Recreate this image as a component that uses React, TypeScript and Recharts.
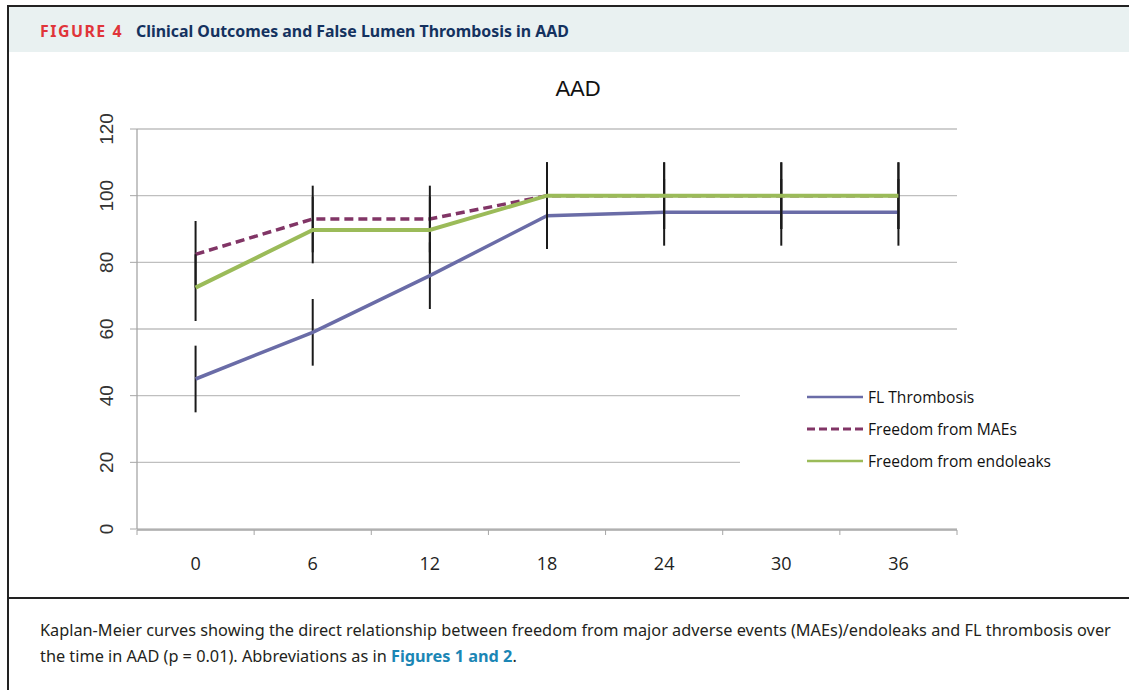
import React from 'react';
import { LineChart, Line, XAxis, YAxis, CartesianGrid, ErrorBar, Legend } from 'recharts';

// Months of follow-up
const months = [0, 6, 12, 18, 24, 30, 36];
// Series values (%)
const flThrombosis = [45, 59, 76, 94, 95, 95, 95];
const freedomMAEs = [82.4, 93, 93, 100, 100, 100, 100];
const freedomEndoleaks = [72.4, 89.7, 89.7, 100, 100, 100, 100];
// Error bar half-widths (%)
const flThrombosisErr = [10, 10, 10, 10, 10, 10, 10];
const freedomMAEsErr = [10, 10, 10, 10, 10, 10, 10];
const freedomEndoleaksErr = [10, 10, 10, 10, 10, 10, 10];
// Axis ticks
const xTickLabels = [0, 6, 12, 18, 24, 30, 36];
const xTickMarks = [-3, 3, 9, 15, 21, 27, 33, 39];
const yTicks = [0, 20, 40, 60, 80, 100, 120];

const series = [
  { key: 'fl', err: 'flErr', name: 'FL Thrombosis', color: '#6A6CA7', width: 3.5, dash: undefined as string | undefined },
  { key: 'mae', err: 'maeErr', name: 'Freedom from MAEs', color: '#813566', width: 3.5, dash: '9 5' },
  { key: 'endo', err: 'endoErr', name: 'Freedom from endoleaks', color: '#9BBB59', width: 4, dash: undefined as string | undefined },
];

const data = months.map((m, i) => ({
  month: m,
  fl: flThrombosis[i],
  mae: freedomMAEs[i],
  endo: freedomEndoleaks[i],
  flErr: flThrombosisErr[i],
  maeErr: freedomMAEsErr[i],
  endoErr: freedomEndoleaksErr[i],
}));

const YTick = (props: any) => {
  const { x, y, payload } = props;
  return (
    <text
      transform={`translate(${x - 15}, ${y}) rotate(-90)`}
      textAnchor="middle"
      fontSize={19}
      fontFamily="'Liberation Sans', Arial, sans-serif"
      fill="#333"
    >
      {payload.value}
    </text>
  );
};

const LegendContent = () => (
  <div style={{ fontFamily: "'Open Sans', sans-serif", fontSize: 15.6, color: '#111' }}>
    {series.map((s) => (
      <div key={s.key} style={{ display: 'flex', alignItems: 'center', height: 32 }}>
        <svg width={58} height={10} style={{ marginRight: 4 }}>
          <line x1={1} y1={5} x2={57} y2={5} stroke={s.color} strokeWidth={s.dash ? 3 : 2.5} strokeDasharray={s.dash ? '8 4' : undefined} />
        </svg>
        <span>{s.name}</span>
      </div>
    ))}
  </div>
);

export default function App() {
  return (
    <div style={{ position: 'absolute', left: 0, top: 0, width: 1129, height: 690, overflow: 'hidden', background: '#fff' }}>
      {/* frame */}
      <div style={{ position: 'absolute', left: 7, top: 5, right: 0, height: 2, background: '#222' }} />
      <div style={{ position: 'absolute', left: 7, top: 5, width: 2, bottom: 0, background: '#222' }} />
      <div style={{ position: 'absolute', left: 9, top: 7, right: 0, height: 45, background: '#E9F1F1' }} />
      <div style={{ position: 'absolute', left: 7, top: 597, right: 0, height: 2, background: '#222' }} />
      {/* header */}
      <div style={{ position: 'absolute', left: 40, top: 18, height: 26, display: 'flex', alignItems: 'center', fontFamily: "'Noto Sans', sans-serif", fontWeight: 700, fontSize: 15.9, whiteSpace: 'nowrap' }}>
        <span style={{ color: '#E0353A', letterSpacing: 1.5 }}>FIGURE 4</span>
        <span style={{ color: '#14325F', marginLeft: 13 }}>Clinical Outcomes and False Lumen Thrombosis in AAD</span>
      </div>
      {/* chart */}
      <div style={{ position: 'absolute', left: 0, top: 0 }}>
        <LineChart width={1129} height={598} data={data} margin={{ top: 129, right: 172, bottom: 67, left: 77 }}>
          <CartesianGrid vertical={false} stroke="#BFBFBF" strokeWidth={1.3} xAxisId="main" />
          <XAxis
            xAxisId="marks"
            dataKey="month"
            type="number"
            domain={[-3, 39]}
            ticks={xTickMarks}
            height={1}
            tickSize={5}
            tickFormatter={() => ''}
            axisLine={{ stroke: '#A6A6A6', strokeWidth: 1.3 }}
            tickLine={{ stroke: '#A6A6A6' }}
            interval={0}
            allowDataOverflow
          />
          <XAxis
            xAxisId="main"
            dataKey="month"
            type="number"
            domain={[-3, 39]}
            ticks={xTickLabels}
            height={1}
            axisLine={false}
            tickLine={false}
            tickSize={6}
            tickMargin={22}
            interval={0}
            tick={{ fontSize: 18, fill: '#222', fontFamily: "'Open Sans', sans-serif" }}
            allowDataOverflow
          />
          <YAxis
            domain={[0, 120]}
            ticks={yTicks}
            width={60}
            tickSize={7}
            axisLine={{ stroke: '#A6A6A6', strokeWidth: 1.3 }}
            tickLine={{ stroke: '#A6A6A6' }}
            tick={<YTick />}
            interval={0}
          />
          <Legend
            layout="vertical"
            align="center"
            verticalAlign="middle"
            content={<LegendContent />}
            wrapperStyle={{ position: 'absolute', left: 740, top: 346, width: 330, height: 172, background: '#fff', paddingLeft: 66, paddingTop: 35, boxSizing: 'border-box' }}
          />
          {series.map((s) => (
            <Line
              key={s.key}
              xAxisId="main"
              dataKey={s.key}
              name={s.name}
              type="linear"
              stroke={s.color}
              strokeWidth={s.width}
              strokeDasharray={s.dash}
              dot={false}
              activeDot={false}
              isAnimationActive={false}
            >
              <ErrorBar dataKey={s.err} direction="y" width={0} stroke="#1A1A1A" strokeWidth={2} isAnimationActive={false} />
            </Line>
          ))}
        </LineChart>
      </div>
      {/* title */}
      <div style={{ position: 'absolute', left: 478, width: 200, top: 75, textAlign: 'center', fontFamily: "'Liberation Sans', Arial, sans-serif", fontSize: 22, color: '#111', lineHeight: '28px' }}>AAD</div>
      {/* caption */}
      <div style={{ position: 'absolute', left: 40, top: 617, width: 1085, fontFamily: "'Noto Sans', sans-serif", fontSize: 16.3, lineHeight: '26px', color: '#231F20', whiteSpace: 'nowrap' }}>
        Kaplan-Meier curves showing the direct relationship between freedom from major adverse events (MAEs)/endoleaks and FL thrombosis over
        <br />
        the time in AAD (p = 0.01). Abbreviations as in <span style={{ color: '#1B86B5', fontWeight: 700 }}>Figures 1 and 2</span>.
      </div>
    </div>
  );
}
